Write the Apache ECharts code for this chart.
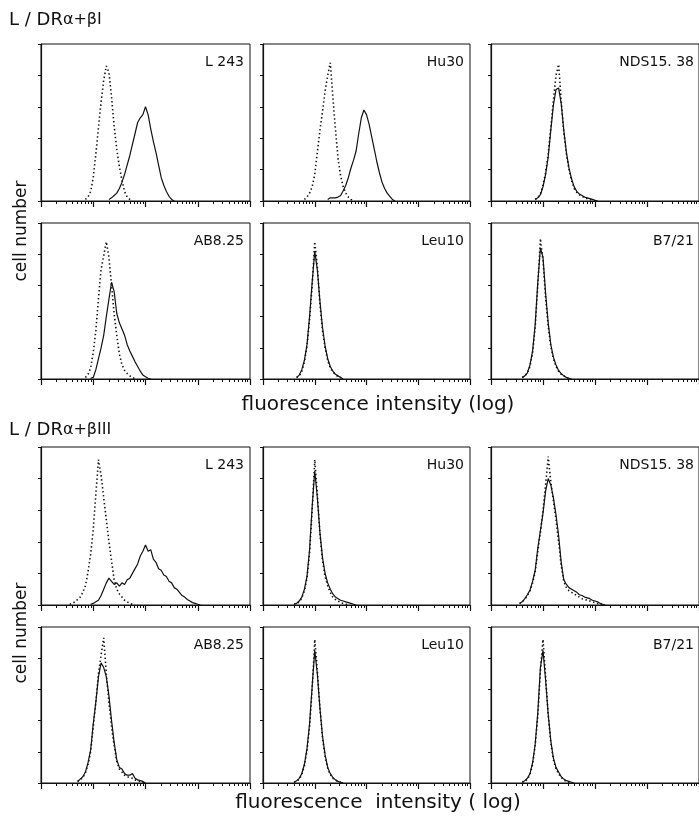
<!DOCTYPE html>
<html><head><meta charset="utf-8">
<script src="https://cdn.jsdelivr.net/npm/echarts@6/dist/echarts.min.js"></script>
<style>html,body{margin:0;padding:0;background:#fff}#c{width:699px;height:818px}</style>
</head><body><div id="c"></div>
<script>
// ---------- DATA ----------
// x = log10 fluorescence intensity (4 decades), bins of 0.05 log units
// y = cell number as % of the frame height
const binStep = 0.05;
const panelNames = ["L 243", "Hu30", "NDS15. 38", "AB8.25", "Leu10", "B7/21"];
const minorTickMultipliers = [2, 3, 4, 5, 6, 7, 8, 9];

// Block A: L / DR α+βI  — control (dotted) and antibody (solid)
const ctrlStartA = [0.85, 0.80, 0.85, 0.85, 0.65, 0.60];
const mabStartA  = [1.30, 1.25, 0.85, 0.95, 0.65, 0.60];
const A_L243_ctrl = [1,2.5,6,15,30,47,63,77,86,82,66,48,33,22,13,6,2.5,1,0];
const A_L243_mab  = [1,2,3.5,5,8,12,17,23,29,36,43,50,53,55,60,55,46,38,31,23,15,10,6,3,1,0];
const A_Hu30_ctrl = [1,2.5,5,9,17,31,45,57,70,80,88,66,46,27,16,9,5,2.5,1,0];
const A_Hu30_mab  = [1,2,2,2,2.5,3.5,6.5,10,15,21,26,32,43,53,58,55,49,41,33,25,18,12,8,5,3,1,0];
const A_NDS_ctrl  = [1,2,4.5,10,18,30,47,64,80,87,64,44,30,20,13,8,5.5,4,3,2,1.5,1,0.5,0];
const A_NDS_mab   = [1,2,4,9,17,28,45,61,71,72,62,45,31,21,14,9,6,4.5,3.5,2.5,2,1.5,1,0.5,0];
const A_AB825_ctrl = [1,3,7,17,31,52,70,79,88,78,60,42,28,16,9,5.5,3.5,2,1,0];
const A_AB825_mab  = [0.5,1,6,13,20,28,40,51,62,56,42,36,32,28,22,18,14.5,11,8,5,2.5,1.5,0.5,0];
const A_Leu10_ctrl = [1,2,5,11,21,38,60,88,72,48,31,20,12,7,4.5,3,1.5,1,0];
const A_Leu10_mab  = [1,2.5,6,12,22,40,62,82,70,50,33,21,13,8,5,3,2,1,0];
const A_B721_ctrl  = [1,2,4,8,17,33,60,90,76,52,34,21,13,8,5,3,2,1,0];
const A_B721_mab   = [1,2,4,9,18,35,62,84,78,55,36,22,14,9,5.5,3.5,2,1,0.5,0];

// Block B: L / DR α+βIII
const ctrlStartB = [0.55, 0.60, 0.55, 0.70, 0.60, 0.60];
const mabStartB  = [0.95, 0.60, 0.55, 0.70, 0.60, 0.60];
const B_L243_ctrl = [0.5,1,2,3.5,5,8,12,21,32,48,70,92,82,68,54,40,28,16,10,7,5,3,2,1,0.5,0];
const B_L243_mab  = [0.5,1,2,3,6,10,14,17,15,13,14,12,14,13,16,17,20,23,26,31,34,38,34,35,29,27,23,22,19,18,15,14,11,10,8,6,5,3.5,2.5,1.5,1,0.5,0];
const B_Hu30_ctrl = [0.5,1,2,4.5,9,17,33,60,92,70,45,28,18,12,8,5,3.5,2.5,1.5,1,0.5,0];
const B_Hu30_mab  = [0.5,1,2.5,5,10,18,35,62,85,68,46,30,20,14,10,7,5,4,3,2.5,2,1.5,1,0.5,0];
const B_NDS_ctrl  = [1,2,3.5,6,9,14,21,34,46,60,76,94,78,66,54,40,25,15,11,9,8,7,6,5,4,3.5,3,2.5,2,1.5,1,0.5,0];
const B_NDS_mab   = [1,2,4,6.5,9.5,15,22,36,47,58,72,80,76,68,57,44,27,16,13,11,10,9,8,6.5,6,5,4.5,4,3,2.5,2,1,0.5,0];
const B_AB825_ctrl = [1,2,3.5,6.5,12,20,36,52,70,82,93,70,52,36,24,14,9,7,5,4,3.5,3,2,1.5,1,0.5,0];
const B_AB825_mab  = [1,2.5,4,7,13,21,38,52,68,77,74,68,56,40,26,15,10,9,6,5,5,6,3,2,1.5,1,0];
const B_Leu10_ctrl = [0.5,1,2.5,5.5,11,21,36,60,92,72,48,29,17,9.5,5.5,3,2,1,0.5,0];
const B_Leu10_mab  = [0.5,1.5,3,6,12,22,38,62,85,70,48,30,18,10,6,3.5,2,1,0.5,0];
const B_B721_ctrl  = [0.5,1,2.5,5.5,12,24,43,72,92,68,44,26,15,9,6,3.5,2,1,0.5,0];
const B_B721_mab   = [0.5,1.5,3,6,13,25,45,74,85,66,44,27,16,10,7,4,2.5,1.5,1,0.5,0];

const ctrlA = [A_L243_ctrl, A_Hu30_ctrl, A_NDS_ctrl, A_AB825_ctrl, A_Leu10_ctrl, A_B721_ctrl];
const mabA  = [A_L243_mab, A_Hu30_mab, A_NDS_mab, A_AB825_mab, A_Leu10_mab, A_B721_mab];
const ctrlB = [B_L243_ctrl, B_Hu30_ctrl, B_NDS_ctrl, B_AB825_ctrl, B_Leu10_ctrl, B_B721_ctrl];
const mabB  = [B_L243_mab, B_Hu30_mab, B_NDS_mab, B_AB825_mab, B_Leu10_mab, B_B721_mab];

// ---------- LAYOUT ----------
const colLeft = [41, 263, 491];
const colWidth = [209, 207, 209];
const rowTop = [44, 223, 447, 627];
const rowHeight = [157, 156, 158, 156];
const FONT = "'DejaVu Sans', sans-serif";

const minorVals = [];
for (let d = 0; d < 4; d++) minorTickMultipliers.forEach(m => minorVals.push(d + Math.log10(m)));

const grids = [], xAxes = [], yAxes = [], series = [], graphics = [];
function toPoints(start, vals) { return vals.map((v, i) => [+(start + i * binStep).toFixed(2), v]); }

let gi = 0;
[[ctrlA, mabA, ctrlStartA, mabStartA], [ctrlB, mabB, ctrlStartB, mabStartB]].forEach((blk, b) => {
  for (let p = 0; p < 6; p++) {
    const r = b * 2 + Math.floor(p / 3), c = p % 3;
    grids.push({ left: colLeft[c], top: rowTop[r], width: colWidth[c], height: rowHeight[r],
      show: true, borderColor: '#111', borderWidth: 1, backgroundColor: 'transparent' });
    xAxes.push({ gridIndex: gi, type: 'value', min: 0, max: 4, interval: 1,
      axisLine: { lineStyle: { color: '#111', width: 1.2 } },
      axisTick: { show: true, length: 6, lineStyle: { color: '#111', width: 1.2 } },
      axisLabel: { show: false }, splitLine: { show: false } });
    xAxes.push({ gridIndex: gi, type: 'value', min: 0, max: 4, position: 'bottom',
      axisLine: { show: false },
      axisTick: { show: true, length: 3, customValues: minorVals, lineStyle: { color: '#111', width: 1 } },
      axisLabel: { show: false }, splitLine: { show: false } });
    yAxes.push({ gridIndex: gi, type: 'value', min: 0, max: 100, interval: 20,
      axisLine: { show: true, lineStyle: { color: '#111', width: 1.2 } },
      axisTick: { show: true, length: 3, lineStyle: { color: '#111', width: 1 } },
      axisLabel: { show: false }, splitLine: { show: false } });
    series.push({ type: 'line', xAxisIndex: gi * 2, yAxisIndex: gi, showSymbol: false, silent: true,
      data: toPoints(blk[2][p], blk[0][p]),
      lineStyle: { color: '#111', width: 1.6, type: [1.4, 2.6] }, z: 3 });
    series.push({ type: 'line', xAxisIndex: gi * 2, yAxisIndex: gi, showSymbol: false, silent: true,
      data: toPoints(blk[3][p], blk[1][p]),
      lineStyle: { color: '#111', width: 1.2 }, z: 4 });
    graphics.push({ type: 'text', x: colLeft[c] + colWidth[c] - 6, y: rowTop[r] + 18,
      style: { text: panelNames[p], font: '14px ' + FONT, fill: '#111',
        align: 'right', verticalAlign: 'middle', textAlign: 'right', textVerticalAlign: 'middle' } });
    gi++;
  }
});

// headings and axis titles
const headY = [20, 430];
const headSub = ['α+βI', 'α+βIII'];
headY.forEach((y, i) => {
  graphics.push({ type: 'text', x: 9, y: y,
    style: { text: '{a|L / DR}{b|' + headSub[i] + '}', fill: '#111', verticalAlign: 'middle', textVerticalAlign: 'middle',
      rich: { a: { fontSize: 18, fontFamily: FONT, fill: '#111' }, b: { fontSize: 16, fontFamily: FONT, fill: '#111' } } } });
});
[231, 633].forEach(y => {
  graphics.push({ type: 'text', x: 22, y: y, rotation: Math.PI / 2,
    style: { text: 'cell number', font: '17px ' + FONT, fill: '#111',
      align: 'center', verticalAlign: 'middle', textAlign: 'center', textVerticalAlign: 'middle' } });
});
[['fluorescence intensity (log)', 405], ['fluorescence  intensity ( log)', 803]].forEach(([t, y]) => {
  graphics.push({ type: 'text', x: 378, y: y,
    style: { text: t, font: '20px ' + FONT, fill: '#111',
      align: 'center', verticalAlign: 'middle', textAlign: 'center', textVerticalAlign: 'middle' } });
});

const chart = echarts.init(document.getElementById('c'), null, { renderer: 'canvas' });
chart.setOption({
  backgroundColor: '#fff', animation: false,
  grid: grids, xAxis: xAxes, yAxis: yAxes, series: series, graphic: graphics
});
</script></body></html>
